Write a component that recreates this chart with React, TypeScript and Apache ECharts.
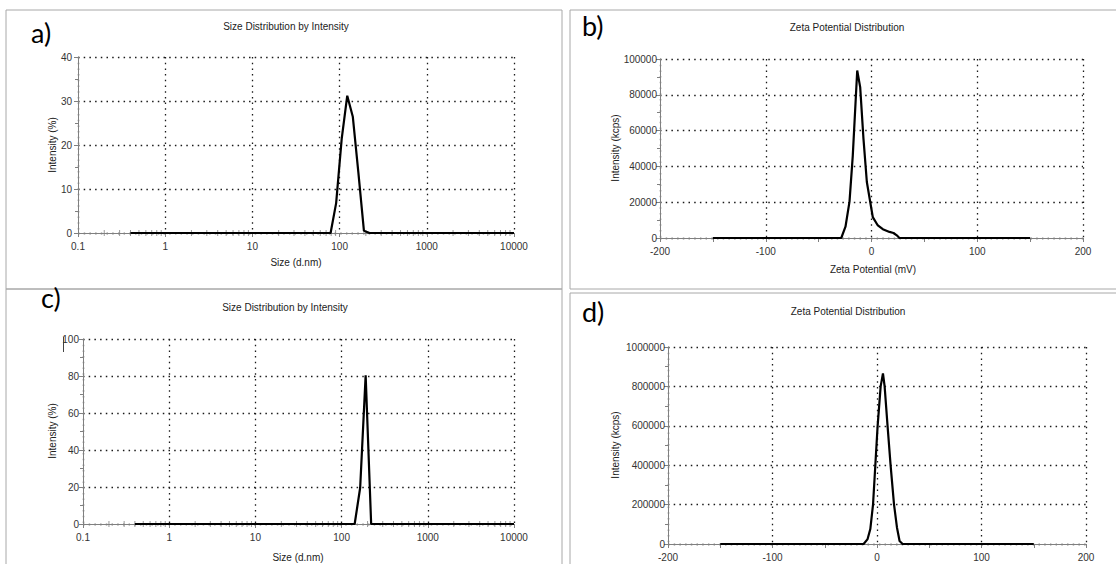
import React, { useEffect, useRef } from "react";
import * as echarts from "echarts";

// ---------- data ----------
const sizeBins = [0.4, 0.4632, 0.5365, 0.6213, 0.7195, 0.8332, 0.9649, 1.117, 1.294, 1.499, 1.736, 2.01, 2.328, 2.696, 3.122, 3.615, 4.187, 4.849, 5.615, 6.503, 7.531, 8.721, 10.1, 11.7, 13.54, 15.69, 18.17, 21.04, 24.36, 28.21, 32.67, 37.84, 43.82, 50.75, 58.77, 68.06, 78.82, 91.28, 105.7, 122.4, 141.8, 164.2, 190.1, 220.2, 255.0, 295.3, 342.0, 396.1, 458.7, 531.2, 615.1, 712.4, 825.0, 955.4, 1106, 1281, 1484, 1718, 1990, 2305, 2669, 3091, 3580, 4145, 4801, 5560, 6439, 7456, 8635, 10000];

const intensityA = [0, 0, 0, 0, 0, 0, 0, 0, 0, 0, 0, 0, 0, 0, 0, 0, 0, 0, 0, 0, 0, 0, 0, 0, 0, 0, 0, 0, 0, 0, 0, 0, 0, 0, 0, 0, 0, 6.8, 21.4, 31.2, 26.4, 13.7, 0.5, 0, 0, 0, 0, 0, 0, 0, 0, 0, 0, 0, 0, 0, 0, 0, 0, 0, 0, 0, 0, 0, 0, 0, 0, 0, 0, 0];

const intensityC = [0, 0, 0, 0, 0, 0, 0, 0, 0, 0, 0, 0, 0, 0, 0, 0, 0, 0, 0, 0, 0, 0, 0, 0, 0, 0, 0, 0, 0, 0, 0, 0, 0, 0, 0, 0, 0, 0, 0, 0, 0, 19.6, 80.4, 0, 0, 0, 0, 0, 0, 0, 0, 0, 0, 0, 0, 0, 0, 0, 0, 0, 0, 0, 0, 0, 0, 0, 0, 0, 0, 0];

const zetaBmV = [-150, -28.6, -24.6, -20.8, -17.7, -13.5, -10.7, -7.6, -4.4, -1.2, 1.2, 6.0, 10.7, 17.0, 20.8, 23.9, 26.4, 150];
const zetaBkcps = [0, 0, 6300, 20300, 46000, 93600, 84300, 55500, 31300, 20100, 11700, 7000, 4900, 3400, 2800, 1500, 0, 0];

const zetaDmV = [-150, -12.8, -9.0, -6.4, -3.8, -1.6, 0.6, 3.5, 5.7, 7.3, 10.1, 13.0, 16.3, 19.1, 21.6, 24.5, 150];
const zetaDkcps = [0, 0, 25000, 76000, 200000, 400000, 600000, 800000, 866000, 800000, 600000, 400000, 200000, 84000, 15000, 0, 0];

const decadeStarts = [0.1, 1, 10, 100, 1000];
const minorMultipliers = [2, 3, 4, 5, 6, 7, 8, 9];

const titleSize = "Size Distribution by Intensity";
const titleZeta = "Zeta Potential Distribution";
const nameSizeX = "Size (d.nm)";
const nameSizeY = "Intensity (%)";
const nameZetaX = "Zeta Potential (mV)";
const nameZetaY = "Intensity (kcps)";
const panelLetters = ["a)", "b)", "c)", "d)"];

// ---------- styling ----------
const FONT = '"Liberation Sans", Arial, sans-serif';
const LETTER_FONT = 'Lato, "Open Sans", sans-serif';
const AXIS_GREY = "#808080";
const BORDER_GREY = "#a8a8a8";

const grids = [
  { left: 78, top: 57, width: 436, height: 176 },
  { left: 660, top: 59, width: 423, height: 179 },
  { left: 83, top: 339, width: 431, height: 185 },
  { left: 668, top: 347, width: 418, height: 197 },
];

const dotted = { color: "#1a1a1a", type: [1.5, 4.2], width: 1.3 };
const plainNumber = (v: number) => String(Number(v.toPrecision(6)));

function logAxis(gridIndex: number) {
  return {
    type: "log",
    logBase: 10,
    gridIndex,
    min: 0.1,
    max: 10000,
    axisLine: { show: true, onZero: false, lineStyle: { color: AXIS_GREY, width: 1 } },
    axisTick: { show: true, length: 4, lineStyle: { color: AXIS_GREY } },
    splitLine: { show: true, lineStyle: dotted },
    axisLabel: { color: "#333", fontSize: 10, fontFamily: FONT, margin: 8, formatter: plainNumber },
  };
}

function zetaXAxis(gridIndex: number) {
  return {
    type: "value",
    gridIndex,
    min: -200,
    max: 200,
    interval: 100,
    axisLine: { show: true, onZero: false, lineStyle: { color: AXIS_GREY, width: 1 } },
    axisTick: { show: true, length: 4, lineStyle: { color: AXIS_GREY } },
    minorTick: { show: true, splitNumber: 2, length: 4, lineStyle: { color: AXIS_GREY } },
    splitLine: { show: true, lineStyle: dotted },
    axisLabel: { color: "#333", fontSize: 10, fontFamily: FONT, margin: 8, formatter: plainNumber },
  };
}

function yAxis(gridIndex: number, max: number, interval: number, margin: number) {
  return {
    type: "value",
    gridIndex,
    min: 0,
    max,
    interval,
    axisLine: { show: true, onZero: false, lineStyle: { color: AXIS_GREY, width: 1 } },
    axisTick: { show: true, length: 4, lineStyle: { color: AXIS_GREY } },
    minorTick: { show: true, splitNumber: 2, length: 3, lineStyle: { color: AXIS_GREY } },
    splitLine: { show: true, lineStyle: dotted },
    axisLabel: { color: "#333", fontSize: 10, fontFamily: FONT, margin, formatter: plainNumber },
  };
}

function lineSeries(idx: number, data: number[][]) {
  return {
    type: "line",
    xAxisIndex: idx,
    yAxisIndex: idx,
    data,
    showSymbol: false,
    symbol: "none",
    smooth: false,
    lineStyle: { color: "#000", width: 2.2 },
    z: 5,
    silent: true,
  };
}

function minorLogTicks(idx: number) {
  const pts: number[][] = [];
  decadeStarts.forEach((d) => minorMultipliers.forEach((m) => pts.push([d * m, 0])));
  return {
    type: "scatter",
    xAxisIndex: idx,
    yAxisIndex: idx,
    data: pts,
    symbol: "rect",
    symbolSize: [1, 6],
    itemStyle: { color: AXIS_GREY },
    z: 3,
    silent: true,
  };
}

function txt(text: string, x: number, y: number, size: number, opts: any = {}) {
  return {
    type: "text",
    x,
    y,
    rotation: opts.rotation || 0,
    silent: true,
    style: {
      text,
      fontSize: size,
      fontFamily: opts.family || FONT,
      fill: opts.fill || "#222",
      align: opts.align || "center",
      verticalAlign: "middle",
    },
  };
}

function box(x1: number, y1: number, x2: number, y2: number) {
  return {
    type: "rect",
    silent: true,
    shape: { x: x1, y: y1, width: x2 - x1, height: y2 - y1 },
    style: { fill: "none", stroke: BORDER_GREY, lineWidth: 1 },
  };
}

export default function App() {
  const ref = useRef<HTMLDivElement>(null);

  useEffect(() => {
    if (!ref.current) return;
    const chart = echarts.init(ref.current, null, { renderer: "svg" });

    const dataA = sizeBins.map((s, i) => [s, intensityA[i]]);
    const dataC = sizeBins.map((s, i) => [s, intensityC[i]]);
    const dataB = zetaBmV.map((z, i) => [z, zetaBkcps[i]]);
    const dataD = zetaDmV.map((z, i) => [z, zetaDkcps[i]]);

    const letter = { family: LETTER_FONT, align: "left", fill: "#000" };

    const option: any = {
      animation: false,
      backgroundColor: "#ffffff",
      textStyle: { fontFamily: FONT },
      grid: grids.map((g) => ({ ...g, containLabel: false })),
      xAxis: [logAxis(0), zetaXAxis(1), logAxis(2), zetaXAxis(3)],
      yAxis: [
        yAxis(0, 40, 10, 6),
        yAxis(1, 100000, 20000, 3),
        yAxis(2, 100, 20, 4),
        yAxis(3, 1000000, 200000, 3),
      ],
      series: [
        minorLogTicks(0),
        minorLogTicks(2),
        lineSeries(0, dataA),
        lineSeries(1, dataB),
        lineSeries(2, dataC),
        lineSeries(3, dataD),
      ],
      graphic: [
        box(6, 10, 562, 289),
        box(570, 10, 1130, 289),
        box(6, 289, 562, 580),
        box(570, 293, 1130, 580),
        txt(panelLetters[0], 31, 32, 27, letter),
        txt(panelLetters[1], 582, 25, 27, letter),
        txt(panelLetters[2], 41, 297, 27, letter),
        txt(panelLetters[3], 582, 311, 27, letter),
        txt(titleSize, 286, 26, 10),
        txt(titleZeta, 847, 27, 10),
        txt(titleSize, 285, 307, 10),
        txt(titleZeta, 848, 311, 10),
        txt(nameSizeX, 296, 262, 10),
        txt(nameZetaX, 873, 269, 10),
        txt(nameSizeX, 298, 557, 10),
        txt(nameSizeY, 52, 145, 10, { rotation: Math.PI / 2 }),
        txt(nameZetaY, 615, 148, 10, { rotation: Math.PI / 2 }),
        txt(nameSizeY, 52, 431, 10, { rotation: Math.PI / 2 }),
        txt(nameZetaY, 615, 445, 10, { rotation: Math.PI / 2 }),
        {
          type: "line",
          silent: true,
          shape: { x1: 63.5, y1: 337, x2: 63.5, y2: 352 },
          style: { stroke: "#444", lineWidth: 1 },
        },
      ],
    };

    chart.setOption(option);
    return () => chart.dispose();
  }, []);

  return (
    <div
      ref={ref}
      style={{ position: "absolute", left: 0, top: 0, width: 1116, height: 564, background: "#fff" }}
    />
  );
}
